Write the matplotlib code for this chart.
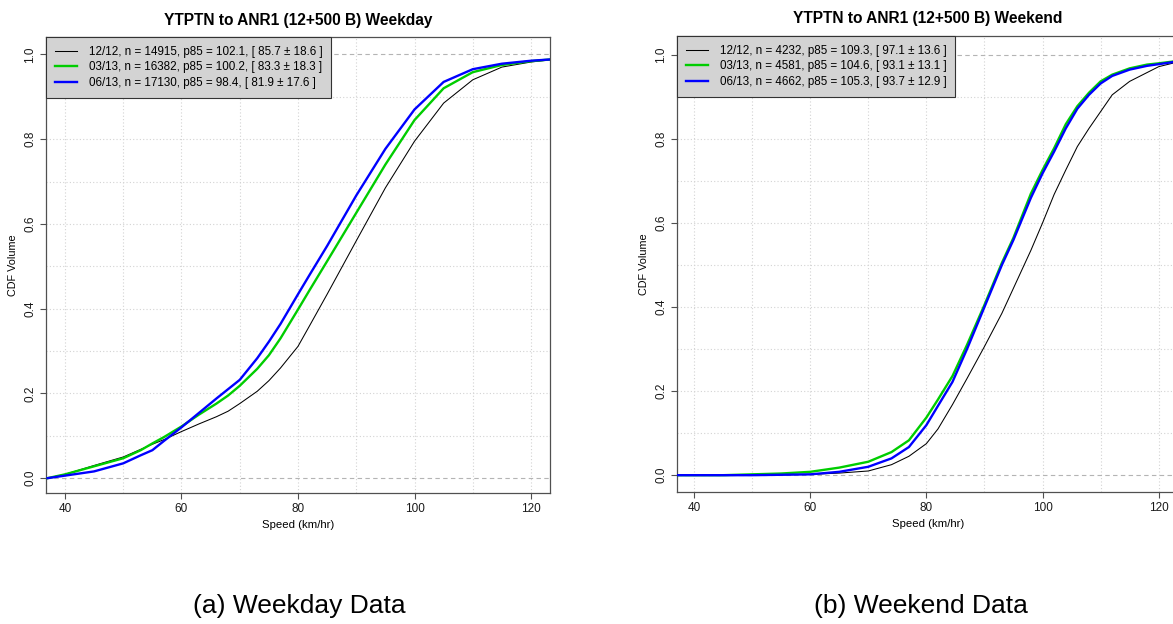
import matplotlib
matplotlib.use("Agg")
import matplotlib.pyplot as plt
import numpy as np

plt.rcParams['font.family'] = ['Liberation Sans', 'DejaVu Sans']

# ---------------- data ----------------
# Weekday CDF readings
speed_wd = [37, 40, 45, 50, 53, 55, 57, 60, 63, 66, 68, 70, 73, 75, 77, 80, 82, 85, 90, 95, 100, 105, 110, 115, 120, 123.3]
cdf_wd_1212 = [0.0, 0.009, 0.030, 0.050, 0.068, 0.080, 0.091, 0.110, 0.128, 0.145, 0.158, 0.176, 0.205, 0.230, 0.260, 0.311, 0.360, 0.434, 0.560, 0.685, 0.795, 0.885, 0.940, 0.970, 0.982, 0.987]
cdf_wd_0313 = [0.0, 0.009, 0.028, 0.047, 0.066, 0.082, 0.097, 0.122, 0.150, 0.176, 0.195, 0.218, 0.258, 0.290, 0.330, 0.398, 0.444, 0.512, 0.626, 0.740, 0.845, 0.920, 0.958, 0.975, 0.984, 0.988]
cdf_wd_0613 = [0.0, 0.006, 0.016, 0.035, 0.054, 0.066, 0.088, 0.120, 0.154, 0.188, 0.210, 0.232, 0.283, 0.322, 0.364, 0.434, 0.480, 0.548, 0.667, 0.777, 0.870, 0.935, 0.965, 0.978, 0.985, 0.988]

# Weekend CDF readings
speed_we = [37, 45, 50, 55, 60, 65, 70, 74, 77, 80, 82, 84.5, 87, 90, 93, 95, 98, 100, 102, 104, 106, 108, 110, 112, 115, 118, 120, 123.5]
cdf_we_1212 = [0.0, 0.0, 0.0, 0.001, 0.002, 0.005, 0.010, 0.025, 0.045, 0.075, 0.110, 0.168, 0.230, 0.306, 0.385, 0.445, 0.535, 0.600, 0.668, 0.726, 0.782, 0.825, 0.865, 0.905, 0.937, 0.958, 0.972, 0.984]
cdf_we_0313 = [0.0, 0.0, 0.002, 0.004, 0.008, 0.018, 0.032, 0.055, 0.083, 0.137, 0.180, 0.236, 0.310, 0.405, 0.505, 0.565, 0.670, 0.726, 0.778, 0.835, 0.878, 0.910, 0.937, 0.953, 0.968, 0.977, 0.980, 0.986]
cdf_we_0613 = [0.0, 0.0, 0.0, 0.001, 0.002, 0.008, 0.020, 0.040, 0.067, 0.119, 0.165, 0.222, 0.300, 0.400, 0.500, 0.560, 0.660, 0.718, 0.770, 0.825, 0.872, 0.905, 0.932, 0.950, 0.965, 0.974, 0.978, 0.985]

labels_wd = ["12/12, n = 14915, p85 = 102.1, [ 85.7 \u00b1 18.6 ]",
             "03/13, n = 16382, p85 = 100.2, [ 83.3 \u00b1 18.3 ]",
             "06/13, n = 17130, p85 = 98.4, [ 81.9 \u00b1 17.6 ]"]
labels_we = ["12/12, n = 4232, p85 = 109.3, [ 97.1 \u00b1 13.6 ]",
             "03/13, n = 4581, p85 = 104.6, [ 93.1 \u00b1 13.1 ]",
             "06/13, n = 4662, p85 = 105.3, [ 93.7 \u00b1 12.9 ]"]

titles = ["YTPTN to ANR1 (12+500 B) Weekday", "YTPTN to ANR1 (12+500 B) Weekend"]
captions = ["(a) Weekday Data", "(b) Weekend Data"]
xticks = [40, 60, 80, 100, 120]
yticks = [0.0, 0.2, 0.4, 0.6, 0.8, 1.0]
ytick_labels = ["0.0", "0.2", "0.4", "0.6", "0.8", "1.0"]

colors = ["black", "#00CD00", "#0000FF"]
widths = [0.75, 1.7, 1.7]

# ---------------- figure ----------------
W, H = 1173, 624
fig = plt.figure(figsize=(W / 100, H / 100), dpi=100)

def px_axes(x0, x1, ytop, ybot):
    return [x0 / W, 1 - ybot / H, (x1 - x0) / W, (ybot - ytop) / H]

ax1 = fig.add_axes(px_axes(46, 550, 37, 493))
ax2 = fig.add_axes(px_axes(677, 1179, 36, 492))

panels = [
    (ax1, speed_wd, [cdf_wd_1212, cdf_wd_0313, cdf_wd_0613], labels_wd, (36.74, 123.26), (-0.035, 1.041)),
    (ax2, speed_we, [cdf_we_1212, cdf_we_0313, cdf_we_0613], labels_we, (37.07, 123.5), (-0.040, 1.045)),
]

spine_col = "#505050"
for i, (ax, xs, series, labs, xl, yl) in enumerate(panels):
    ax.set_xlim(*xl)
    ax.set_ylim(*yl)
    # grid
    for gx in range(40, 130, 10):
        ax.axvline(gx, color="#d3d3d3", lw=0.8, ls=(0, (1, 2)), zorder=1)
    for gy in np.arange(0.1, 1.0, 0.1):
        ax.axhline(gy, color="#d3d3d3", lw=0.8, ls=(0, (1, 2)), zorder=1)
    for gy in (0.0, 1.0):
        ax.axhline(gy, color="#b4b4b4", lw=0.8, ls=(0, (4, 3)), zorder=1)
    for ys, c, w, lab in zip(series, colors, widths, labs):
        ax.plot(xs, ys, color=c, lw=w, label=lab, zorder=3)
    ax.set_xticks(xticks)
    ax.set_xticklabels([str(t) for t in xticks])
    ax.set_yticks(yticks)
    ax.set_yticklabels(ytick_labels, rotation=90, va="center")
    ax.tick_params(axis="both", direction="out", length=4, width=0.8, color=spine_col,
                   labelsize=8.5, pad=3, labelcolor="#1a1a1a")
    for s in ax.spines.values():
        s.set_color(spine_col)
        s.set_linewidth(0.9)
    ax.set_title(titles[i], fontsize=11.2, fontweight="bold", pad=9)
    ax.set_xlabel("Speed (km/hr)", fontsize=8.2)
    ax.set_ylabel("CDF Volume", fontsize=7.8)
    ax.xaxis.set_label_coords(0.5, -0.060)
    ax.yaxis.set_label_coords(-0.056, 0.5)
    leg = ax.legend(loc="upper left", borderaxespad=0, fontsize=8.4, frameon=True,
                    fancybox=False, framealpha=1, facecolor="#d3d3d3", edgecolor="#333333",
                    handlelength=1.9, handletextpad=1.0, borderpad=0.75, labelspacing=0.3)
    leg.get_frame().set_linewidth(0.8)
    leg.set_zorder(5)

fig.text(299 / W, 1 - 606 / H, captions[0], fontsize=19, ha="center", va="center")
fig.text(921 / W, 1 - 606 / H, captions[1], fontsize=19, ha="center", va="center")

fig.savefig("out.png", dpi=100)
